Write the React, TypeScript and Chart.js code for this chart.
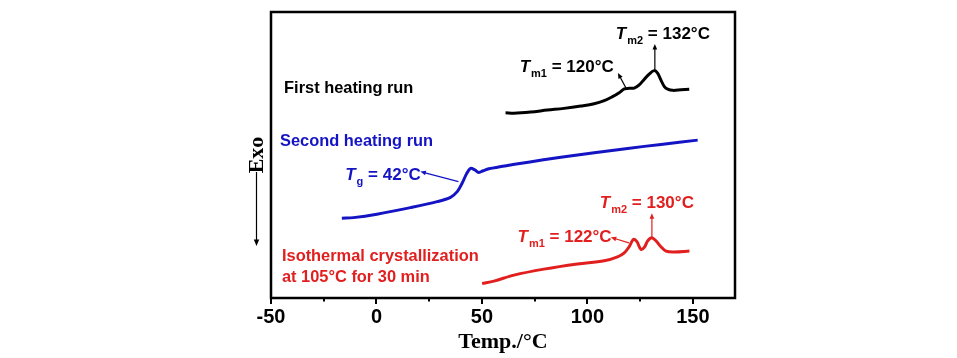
import React, { useEffect, useRef } from 'react';
import { Chart, registerables } from 'chart.js';
Chart.register(...registerables);

// First heating run (black)
const firstX = [61.2, 65.2, 73.1, 81.0, 88.9, 96.9, 103.2, 108.0, 111.9, 115.1, 117.5, 119.8, 122.2, 124.6, 127.0, 129.3, 131.7, 133.3, 134.9, 136.5, 138.1, 140.5, 144.4, 148.3];
const firstY = [64.8, 64.6, 65.0, 65.7, 66.3, 67.1, 67.9, 69.0, 70.4, 71.8, 73.1, 73.3, 73.4, 74.5, 76.5, 78.3, 79.5, 78.6, 76.2, 73.9, 73.0, 72.6, 72.8, 73.0];

// Second heating run (blue)
const secondX = [-16.4, -10.9, 0.2, 16.1, 28.8, 35.1, 38.3, 40.6, 42.7, 44.6, 46.6, 48.5, 50.6, 53.3, 63.6, 87.4, 119.1, 134.9, 152.3];
const secondY = [27.9, 28.1, 29.3, 31.6, 33.7, 35.2, 37.2, 40.1, 43.4, 45.3, 44.8, 43.9, 44.5, 45.2, 46.5, 49.2, 52.3, 53.7, 55.2];

// Isothermal crystallization (red)
const isoX = [50.1, 55.7, 65.2, 79.4, 95.3, 108.0, 114.3, 117.5, 119.8, 121.9, 123.5, 125.4, 127.0, 128.6, 130.5, 132.5, 134.9, 137.3, 141.2, 148.4];
const isoY = [5.1, 5.9, 8.0, 10.1, 11.9, 13.0, 14.4, 15.8, 17.9, 20.5, 19.7, 17.0, 17.7, 20.0, 21.1, 20.0, 17.9, 16.4, 16.1, 16.4];

const majorTicks = [-50, 0, 50, 100, 150];
const minorTicks = [-25, 25, 75, 125];
const xLabel = 'Temp./°C';
const yLabel = 'Exo';

const BLACK = '#000000';
const BLUE = '#1414c4';
const RED = '#e11f1f';

const SANS = '"Liberation Sans", Arial, sans-serif';
const SERIF = '"Liberation Serif", "Times New Roman", serif';

type Seg = { t: string; sub?: boolean; italic?: boolean };
type Note = { segs: Seg[]; x: number; y: number; color: string; baseline?: 'alphabetic' | 'middle'; size?: number };
type Arrow = { x1: number; y1: number; x2: number; y2: number; color: string; w: number };

const notes: Note[] = [
  { segs: [{ t: 'First heating run' }], x: -43.8, y: 73.1, color: BLACK, baseline: 'middle', size: 16.4 },
  { segs: [{ t: 'T', italic: true }, { t: 'm1', sub: true }, { t: ' = 120°C' }], x: 67.9, y: 79.0, color: BLACK },
  { segs: [{ t: 'T', italic: true }, { t: 'm2', sub: true }, { t: ' = 132°C' }], x: 113.5, y: 90.6, color: BLACK },
  { segs: [{ t: 'Second heating run' }], x: -45.7, y: 54.7, color: BLUE, baseline: 'middle', size: 16.4 },
  { segs: [{ t: 'T', italic: true }, { t: 'g', sub: true }, { t: ' = 42°C' }], x: -14.8, y: 41.3, color: BLUE },
  { segs: [{ t: 'Isothermal crystallization' }], x: -44.8, y: 14.4, color: RED, baseline: 'middle', size: 16.4 },
  { segs: [{ t: 'at 105°C for 30 min' }], x: -44.8, y: 7.1, color: RED, baseline: 'middle', size: 16.4 },
  { segs: [{ t: 'T', italic: true }, { t: 'm2', sub: true }, { t: ' = 130°C' }], x: 105.9, y: 31.5, color: RED },
  { segs: [{ t: 'T', italic: true }, { t: 'm1', sub: true }, { t: ' = 122°C' }], x: 66.9, y: 19.7, color: RED },
];

const arrows: Arrow[] = [
  { x1: 118.3, y1: 73.4, x2: 114.5, y2: 78.7, color: BLACK, w: 1.2 },
  { x1: 132.0, y1: 79.7, x2: 132.0, y2: 88.8, color: BLACK, w: 1.2 },
  { x1: 38.9, y1: 40.7, x2: 20.8, y2: 44.2, color: BLUE, w: 1.2 },
  { x1: 119.7, y1: 19.3, x2: 111.1, y2: 21.2, color: RED, w: 1.2 },
  { x1: 130.6, y1: 21.2, x2: 130.6, y2: 29.6, color: RED, w: 1.2 },
];

function drawArrowHead(ctx: CanvasRenderingContext2D, x1: number, y1: number, x2: number, y2: number, size: number) {
  const a = Math.atan2(y2 - y1, x2 - x1);
  ctx.beginPath();
  ctx.moveTo(x2, y2);
  ctx.lineTo(x2 - size * Math.cos(a - 0.4), y2 - size * Math.sin(a - 0.4));
  ctx.lineTo(x2 - size * Math.cos(a + 0.4), y2 - size * Math.sin(a + 0.4));
  ctx.closePath();
  ctx.fill();
}

const decorPlugin = {
  id: 'decor',
  afterDraw(chart: any) {
    const { ctx, chartArea, scales } = chart;
    const xs = scales.x;
    const ys = scales.y;
    const { left, right, top, bottom } = chartArea;
    ctx.save();
    // frame
    ctx.strokeStyle = '#000';
    ctx.lineWidth = 2.5;
    ctx.strokeRect(left, top, right - left, bottom - top);
    // ticks
    ctx.lineWidth = 2;
    majorTicks.forEach((v) => {
      const px = Math.round(xs.getPixelForValue(v));
      ctx.beginPath();
      ctx.moveTo(px, bottom);
      ctx.lineTo(px, bottom + 6);
      ctx.stroke();
    });
    minorTicks.forEach((v) => {
      const px = Math.round(xs.getPixelForValue(v));
      ctx.beginPath();
      ctx.moveTo(px, bottom);
      ctx.lineTo(px, bottom + 3.5);
      ctx.stroke();
    });
    // y label "Exo" with arrow
    const lx = left - 14.5;
    ctx.save();
    ctx.translate(lx, 155);
    ctx.rotate(-Math.PI / 2);
    ctx.font = `bold 22px ${SERIF}`;
    ctx.fillStyle = '#000';
    ctx.textAlign = 'center';
    ctx.textBaseline = 'middle';
    ctx.fillText(yLabel, 0, 1);
    ctx.restore();
    ctx.strokeStyle = '#000';
    ctx.fillStyle = '#000';
    ctx.lineWidth = 1.2;
    ctx.beginPath();
    ctx.moveTo(lx, 172);
    ctx.lineTo(lx, 240);
    ctx.stroke();
    drawArrowHead(ctx, lx, 172, lx, 246, 7);
    // arrows
    arrows.forEach((a) => {
      const x1 = xs.getPixelForValue(a.x1);
      const y1 = ys.getPixelForValue(a.y1);
      const x2 = xs.getPixelForValue(a.x2);
      const y2 = ys.getPixelForValue(a.y2);
      ctx.strokeStyle = a.color;
      ctx.fillStyle = a.color;
      ctx.lineWidth = a.w;
      const ang = Math.atan2(y2 - y1, x2 - x1);
      ctx.beginPath();
      ctx.moveTo(x1, y1);
      ctx.lineTo(x2 - 4 * Math.cos(ang), y2 - 4 * Math.sin(ang));
      ctx.stroke();
      drawArrowHead(ctx, x1, y1, x2, y2, 6);
    });
    // notes
    notes.forEach((n) => {
      let px = xs.getPixelForValue(n.x);
      const py = ys.getPixelForValue(n.y);
      const size = n.size ?? 17;
      ctx.fillStyle = n.color;
      ctx.textAlign = 'left';
      ctx.textBaseline = n.baseline ?? 'alphabetic';
      n.segs.forEach((s) => {
        if (s.sub) {
          ctx.font = `bold 11px ${SANS}`;
          ctx.fillText(s.t, px + 1, py + 5);
          px += ctx.measureText(s.t).width + 1;
        } else {
          ctx.font = `${s.italic ? 'italic ' : ''}bold ${size}px ${SANS}`;
          ctx.fillText(s.t, px, py);
          px += ctx.measureText(s.t).width;
        }
      });
    });
    ctx.restore();
  },
};

function toPts(xs: number[], ys: number[]) {
  return xs.map((x, i) => ({ x, y: ys[i] }));
}

export default function App() {
  const ref = useRef<HTMLCanvasElement | null>(null);
  useEffect(() => {
    if (!ref.current) return;
    const ds = (data: any, color: string) => ({
      data,
      showLine: true,
      borderColor: color,
      backgroundColor: color,
      borderWidth: 3,
      pointRadius: 0,
      tension: 0.35,
      fill: false,
    });
    const chart = new Chart(ref.current, {
      type: 'scatter',
      data: {
        datasets: [
          ds(toPts(firstX, firstY), BLACK),
          ds(toPts(secondX, secondY), BLUE),
          ds(toPts(isoX, isoY), RED),
        ],
      },
      options: {
        responsive: false,
        animation: false,
        layout: { padding: { left: 271, right: 222, top: 12, bottom: 0 } },
        plugins: { legend: { display: false }, tooltip: { enabled: false } },
        scales: {
          x: {
            type: 'linear',
            min: -50,
            max: 170,
            afterFit: (s: any) => { s.height = 60; },
            afterBuildTicks: (s: any) => { s.ticks = majorTicks.map((v) => ({ value: v })); },
            grid: { display: false, drawTicks: false },
            border: { display: false },
            ticks: {
              padding: 7,
              color: '#000',
              font: { family: SANS, size: 20, weight: 'bold' },
              maxRotation: 0,
              autoSkip: false,
            },
            title: {
              display: true,
              text: xLabel,
              color: '#000',
              font: { family: SERIF, size: 22, weight: 'bold' },
              padding: { top: 0, bottom: 2 },
            },
          },
          y: {
            type: 'linear',
            min: 0,
            max: 100,
            display: false,
          },
        },
      },
      plugins: [decorPlugin],
    });
    return () => chart.destroy();
  }, []);
  return (
    <div style={{ position: 'absolute', left: 0, top: 0, width: 957, height: 358, background: '#fff' }}>
      <canvas ref={ref} width={957} height={358} style={{ display: 'block' }} />
    </div>
  );
}
